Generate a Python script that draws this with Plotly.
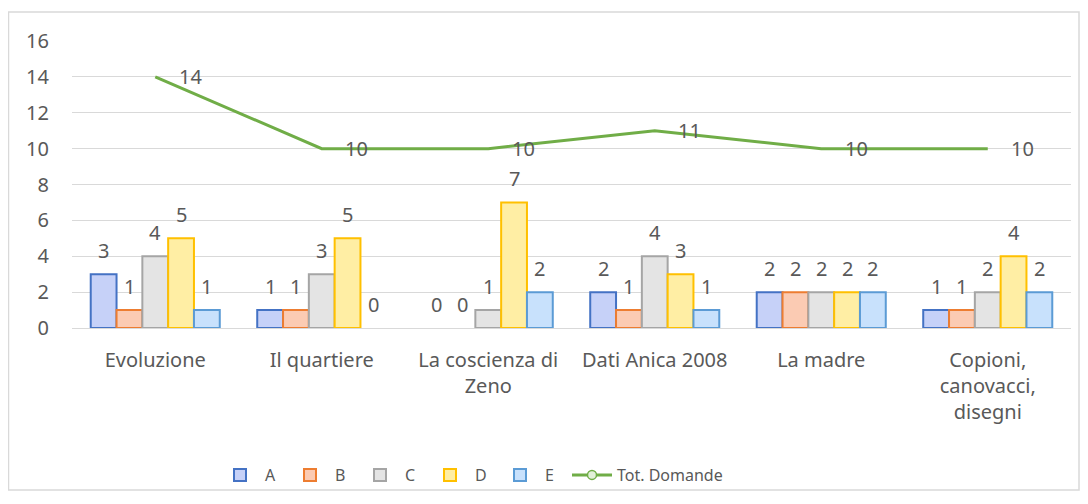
import plotly.graph_objects as go

# categories (x axis) and series values
categories = ["Evoluzione", "Il quartiere", "La coscienza di<br>Zeno", "Dati Anica 2008",
              "La madre", "Copioni,<br>canovacci,<br>disegni"]
series_names = ["A", "B", "C", "D", "E"]
vals_a = [3, 1, 0, 2, 2, 1]
vals_b = [1, 1, 0, 1, 2, 1]
vals_c = [4, 3, 1, 4, 2, 2]
vals_d = [5, 5, 7, 3, 2, 4]
vals_e = [1, 0, 2, 1, 2, 2]
tot_domande = [14, 10, 10, 11, 10, 10]
y_ticks = [0, 2, 4, 6, 8, 10, 12, 14, 16]

# excel-like fill / outline colours
fills = ["#C6D1F8", "#FBCBB3", "#E4E4E4", "#FFEEA4", "#C8E1FC"]
lines = ["#4472C4", "#ED7D31", "#A5A5A5", "#FFC000", "#5B9BD5"]
green = "#70AD47"
txt = "#595959"
font_family = "Noto Sans, Open Sans, sans-serif"
fsize = 20

# page has an 8px body margin, so the figure is 8px smaller than the window
W, H = 1080, 496
L, R, T, B = 64, 17, 33, 176
plot_w = W - L - R
plot_h = H - T - B
BARGAP = 0.225
bar_px = plot_w / len(categories) * (1 - BARGAP) / len(series_names)


def px(x):
    # window pixel -> paper x
    return (x - 8 - L) / plot_w


def py(y):
    # window pixel -> paper y
    return (H - B - (y - 8)) / plot_h


fig = go.Figure()

all_vals = [vals_a, vals_b, vals_c, vals_d, vals_e]
for i, (name, vals, fc, lc) in enumerate(zip(series_names, all_vals, fills, lines)):
    fig.add_trace(go.Bar(
        x=categories, y=vals, name=name,
        marker=dict(color=fc, line=dict(color=lc, width=[2 if v else 0 for v in vals])),
        hoverinfo="x+y+name",
    ))
    # data labels above each bar
    for c, v in zip(categories, vals):
        fig.add_annotation(x=c, y=v, text=str(v), showarrow=False,
                           xshift=(i - 2) * bar_px, yshift=24, yanchor="middle",
                           font=dict(color=txt, size=fsize, family=font_family))

fig.add_trace(go.Scatter(
    x=categories, y=tot_domande, name="Tot. Domande",
    mode="lines", line=dict(color=green, width=3),
    showlegend=False, cliponaxis=False,
))
# legend entry with the hollow circle marker like the original (own legend box)
fig.add_trace(go.Scatter(
    x=[None], y=[None], name="Tot. Domande", mode="lines+markers",
    line=dict(color=green, width=3), legend="legend2",
    marker=dict(size=9, color="#E2F0D9", line=dict(color=green, width=1.5)),
))

# line data labels, placed to the right of each point
for c, v in zip(categories, tot_domande):
    fig.add_annotation(x=c, y=v, text=str(v), showarrow=False, xshift=35,
                       font=dict(color=txt, size=fsize, family=font_family))

# outer chart border
fig.add_shape(type="rect", xref="paper", yref="paper",
              x0=px(8.5), x1=px(1079), y0=py(490), y1=py(12),
              line=dict(color="#D9D9D9", width=1.5), fillcolor="rgba(0,0,0,0)", layer="below")

legend_font = dict(size=16, color=txt, family=font_family)
fig.update_layout(
    width=W, height=H,
    margin=dict(l=L, r=R, t=T, b=B, autoexpand=False),
    paper_bgcolor="white", plot_bgcolor="white",
    barmode="group", bargap=BARGAP, bargroupgap=0,
    font=dict(family=font_family, color=txt, size=fsize),
    showlegend=True,
    legend=dict(orientation="h", x=px(215), y=py(475), xanchor="left", yanchor="middle",
                font=legend_font, itemwidth=40, entrywidth=15,
                traceorder="normal", bgcolor="rgba(0,0,0,0)"),
    legend2=dict(orientation="h", x=px(567), y=py(475), xanchor="left", yanchor="middle",
                 font=legend_font, itemwidth=40, bgcolor="rgba(0,0,0,0)"),
    xaxis=dict(type="category", showgrid=False, showline=False, zeroline=False,
               ticks="", ticklabelstandoff=18, tickfont=dict(size=fsize, color=txt)),
    yaxis=dict(range=[0, 16], tickvals=y_ticks, showgrid=True, gridcolor="#D9D9D9",
               gridwidth=1, zeroline=True, zerolinecolor="#D9D9D9", zerolinewidth=1,
               showline=False, ticks="", ticklabelstandoff=22,
               tickfont=dict(size=fsize, color=txt)),
)

fig.write_html("out.html")
